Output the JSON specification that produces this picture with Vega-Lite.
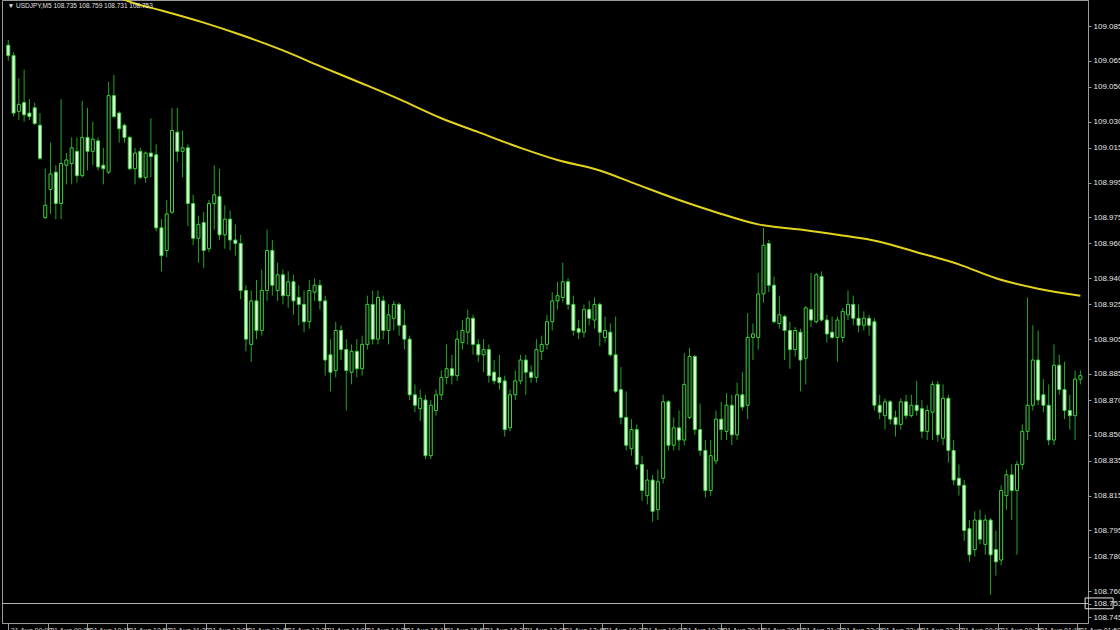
{
"$schema": "https://vega.github.io/schema/vega-lite/v6.json",
"width": 1086, "height": 623,
"autosize": {"type": "none"},
"padding": {"left": 2, "top": 0, "right": 32, "bottom": 7},
"background": "#000000",
"config": {"view": {"stroke": "#9a9a9a", "strokeWidth": 1}, "axis": {"labelOverlap": false, "labelBound": false, "labelFlush": false}},
"datasets": {
"candles": [
{"i":0,"o":109.074,"h":109.077,"l":109.065,"c":109.068},
{"i":1,"o":109.068,"h":109.070,"l":109.033,"c":109.035},
{"i":2,"o":109.036,"h":109.055,"l":109.031,"c":109.040},
{"i":3,"o":109.041,"h":109.060,"l":109.030,"c":109.034},
{"i":4,"o":109.035,"h":109.043,"l":109.031,"c":109.033},
{"i":5,"o":109.038,"h":109.041,"l":109.028,"c":109.029},
{"i":6,"o":109.028,"h":109.035,"l":109.008,"c":109.009},
{"i":7,"o":108.975,"h":109.003,"l":108.974,"c":108.982},
{"i":8,"o":108.991,"h":109.018,"l":108.977,"c":109.000},
{"i":9,"o":109.001,"h":109.005,"l":108.974,"c":108.983},
{"i":10,"o":108.983,"h":109.043,"l":108.974,"c":109.006},
{"i":11,"o":109.005,"h":109.012,"l":108.994,"c":109.008},
{"i":12,"o":109.006,"h":109.021,"l":108.994,"c":109.015},
{"i":13,"o":109.013,"h":109.021,"l":108.995,"c":108.999},
{"i":14,"o":108.999,"h":109.042,"l":108.998,"c":109.021},
{"i":15,"o":109.021,"h":109.038,"l":109.002,"c":109.013},
{"i":16,"o":109.013,"h":109.030,"l":109.005,"c":109.020},
{"i":17,"o":109.019,"h":109.021,"l":109.002,"c":109.004},
{"i":18,"o":109.005,"h":109.015,"l":108.994,"c":109.003},
{"i":19,"o":109.001,"h":109.053,"l":109.000,"c":109.045},
{"i":20,"o":109.045,"h":109.057,"l":109.032,"c":109.033},
{"i":21,"o":109.035,"h":109.036,"l":109.018,"c":109.026},
{"i":22,"o":109.028,"h":109.029,"l":109.018,"c":109.021},
{"i":23,"o":109.021,"h":109.022,"l":109.002,"c":109.003},
{"i":24,"o":109.003,"h":109.015,"l":108.994,"c":109.012},
{"i":25,"o":109.013,"h":109.015,"l":108.997,"c":108.998},
{"i":26,"o":108.998,"h":109.013,"l":108.995,"c":109.012},
{"i":27,"o":109.012,"h":109.032,"l":108.998,"c":109.010},
{"i":28,"o":109.011,"h":109.017,"l":108.967,"c":108.969},
{"i":29,"o":108.969,"h":108.974,"l":108.944,"c":108.953},
{"i":30,"o":108.956,"h":108.985,"l":108.952,"c":108.977},
{"i":31,"o":108.978,"h":109.038,"l":108.977,"c":109.025},
{"i":32,"o":109.024,"h":109.038,"l":109.007,"c":109.013},
{"i":33,"o":109.013,"h":109.025,"l":108.998,"c":109.015},
{"i":34,"o":109.015,"h":109.017,"l":108.970,"c":108.983},
{"i":35,"o":108.983,"h":108.988,"l":108.959,"c":108.963},
{"i":36,"o":108.963,"h":108.976,"l":108.949,"c":108.971},
{"i":37,"o":108.972,"h":108.978,"l":108.946,"c":108.956},
{"i":38,"o":108.957,"h":108.985,"l":108.955,"c":108.983},
{"i":39,"o":108.983,"h":109.005,"l":108.968,"c":108.988},
{"i":40,"o":108.987,"h":109.003,"l":108.962,"c":108.965},
{"i":41,"o":108.965,"h":108.982,"l":108.957,"c":108.974},
{"i":42,"o":108.974,"h":108.979,"l":108.956,"c":108.962},
{"i":43,"o":108.962,"h":108.971,"l":108.953,"c":108.960},
{"i":44,"o":108.960,"h":108.965,"l":108.928,"c":108.933},
{"i":45,"o":108.933,"h":108.936,"l":108.898,"c":108.905},
{"i":46,"o":108.902,"h":108.933,"l":108.892,"c":108.927},
{"i":47,"o":108.927,"h":108.939,"l":108.905,"c":108.910},
{"i":48,"o":108.910,"h":108.945,"l":108.907,"c":108.933},
{"i":49,"o":108.933,"h":108.968,"l":108.927,"c":108.956},
{"i":50,"o":108.956,"h":108.962,"l":108.930,"c":108.936},
{"i":51,"o":108.933,"h":108.949,"l":108.927,"c":108.942},
{"i":52,"o":108.942,"h":108.945,"l":108.925,"c":108.930},
{"i":53,"o":108.930,"h":108.944,"l":108.923,"c":108.938},
{"i":54,"o":108.938,"h":108.942,"l":108.919,"c":108.927},
{"i":55,"o":108.929,"h":108.936,"l":108.913,"c":108.925},
{"i":56,"o":108.925,"h":108.933,"l":108.909,"c":108.915},
{"i":57,"o":108.915,"h":108.939,"l":108.911,"c":108.933},
{"i":58,"o":108.932,"h":108.940,"l":108.927,"c":108.936},
{"i":59,"o":108.936,"h":108.939,"l":108.922,"c":108.927},
{"i":60,"o":108.927,"h":108.930,"l":108.884,"c":108.893},
{"i":61,"o":108.896,"h":108.905,"l":108.875,"c":108.886},
{"i":62,"o":108.887,"h":108.915,"l":108.883,"c":108.910},
{"i":63,"o":108.910,"h":108.913,"l":108.893,"c":108.899},
{"i":64,"o":108.899,"h":108.905,"l":108.864,"c":108.887},
{"i":65,"o":108.886,"h":108.902,"l":108.879,"c":108.898},
{"i":66,"o":108.898,"h":108.905,"l":108.883,"c":108.888},
{"i":67,"o":108.888,"h":108.907,"l":108.884,"c":108.902},
{"i":68,"o":108.902,"h":108.930,"l":108.899,"c":108.925},
{"i":69,"o":108.925,"h":108.933,"l":108.902,"c":108.905},
{"i":70,"o":108.905,"h":108.933,"l":108.902,"c":108.929},
{"i":71,"o":108.927,"h":108.930,"l":108.905,"c":108.910},
{"i":72,"o":108.910,"h":108.925,"l":108.902,"c":108.919},
{"i":73,"o":108.917,"h":108.927,"l":108.910,"c":108.925},
{"i":74,"o":108.925,"h":108.926,"l":108.907,"c":108.913},
{"i":75,"o":108.913,"h":108.922,"l":108.899,"c":108.905},
{"i":76,"o":108.905,"h":108.907,"l":108.870,"c":108.873},
{"i":77,"o":108.873,"h":108.879,"l":108.863,"c":108.867},
{"i":78,"o":108.865,"h":108.876,"l":108.858,"c":108.871},
{"i":79,"o":108.870,"h":108.873,"l":108.836,"c":108.838},
{"i":80,"o":108.838,"h":108.870,"l":108.836,"c":108.867},
{"i":81,"o":108.864,"h":108.876,"l":108.861,"c":108.873},
{"i":82,"o":108.873,"h":108.887,"l":108.870,"c":108.883},
{"i":83,"o":108.883,"h":108.902,"l":108.879,"c":108.888},
{"i":84,"o":108.888,"h":108.896,"l":108.879,"c":108.884},
{"i":85,"o":108.884,"h":108.910,"l":108.881,"c":108.905},
{"i":86,"o":108.903,"h":108.916,"l":108.899,"c":108.910},
{"i":87,"o":108.909,"h":108.922,"l":108.902,"c":108.917},
{"i":88,"o":108.917,"h":108.919,"l":108.896,"c":108.902},
{"i":89,"o":108.902,"h":108.905,"l":108.892,"c":108.896},
{"i":90,"o":108.896,"h":108.905,"l":108.886,"c":108.899},
{"i":91,"o":108.899,"h":108.902,"l":108.880,"c":108.884},
{"i":92,"o":108.886,"h":108.893,"l":108.879,"c":108.881},
{"i":93,"o":108.883,"h":108.896,"l":108.876,"c":108.880},
{"i":94,"o":108.881,"h":108.884,"l":108.849,"c":108.853},
{"i":95,"o":108.854,"h":108.876,"l":108.852,"c":108.873},
{"i":96,"o":108.873,"h":108.887,"l":108.870,"c":108.881},
{"i":97,"o":108.881,"h":108.896,"l":108.879,"c":108.893},
{"i":98,"o":108.893,"h":108.896,"l":108.873,"c":108.886},
{"i":99,"o":108.886,"h":108.890,"l":108.880,"c":108.883},
{"i":100,"o":108.883,"h":108.905,"l":108.880,"c":108.899},
{"i":101,"o":108.898,"h":108.907,"l":108.893,"c":108.902},
{"i":102,"o":108.902,"h":108.919,"l":108.899,"c":108.915},
{"i":103,"o":108.915,"h":108.932,"l":108.910,"c":108.927},
{"i":104,"o":108.927,"h":108.938,"l":108.922,"c":108.930},
{"i":105,"o":108.929,"h":108.949,"l":108.926,"c":108.938},
{"i":106,"o":108.938,"h":108.940,"l":108.922,"c":108.925},
{"i":107,"o":108.925,"h":108.930,"l":108.907,"c":108.910},
{"i":108,"o":108.911,"h":108.916,"l":108.905,"c":108.909},
{"i":109,"o":108.909,"h":108.925,"l":108.906,"c":108.922},
{"i":110,"o":108.922,"h":108.927,"l":108.913,"c":108.917},
{"i":111,"o":108.916,"h":108.929,"l":108.911,"c":108.925},
{"i":112,"o":108.925,"h":108.926,"l":108.901,"c":108.909},
{"i":113,"o":108.906,"h":108.918,"l":108.903,"c":108.910},
{"i":114,"o":108.909,"h":108.914,"l":108.895,"c":108.896},
{"i":115,"o":108.896,"h":108.918,"l":108.874,"c":108.875},
{"i":116,"o":108.876,"h":108.889,"l":108.856,"c":108.860},
{"i":117,"o":108.860,"h":108.875,"l":108.841,"c":108.844},
{"i":118,"o":108.842,"h":108.859,"l":108.838,"c":108.853},
{"i":119,"o":108.853,"h":108.856,"l":108.830,"c":108.833},
{"i":120,"o":108.833,"h":108.838,"l":108.812,"c":108.818},
{"i":121,"o":108.815,"h":108.830,"l":108.810,"c":108.824},
{"i":122,"o":108.824,"h":108.827,"l":108.800,"c":108.806},
{"i":123,"o":108.807,"h":108.830,"l":108.801,"c":108.823},
{"i":124,"o":108.825,"h":108.873,"l":108.822,"c":108.869},
{"i":125,"o":108.869,"h":108.870,"l":108.841,"c":108.844},
{"i":126,"o":108.844,"h":108.860,"l":108.841,"c":108.854},
{"i":127,"o":108.854,"h":108.864,"l":108.841,"c":108.847},
{"i":128,"o":108.847,"h":108.897,"l":108.844,"c":108.879},
{"i":129,"o":108.860,"h":108.900,"l":108.859,"c":108.895},
{"i":130,"o":108.895,"h":108.896,"l":108.850,"c":108.853},
{"i":131,"o":108.853,"h":108.868,"l":108.838,"c":108.841},
{"i":132,"o":108.841,"h":108.847,"l":108.814,"c":108.818},
{"i":133,"o":108.818,"h":108.847,"l":108.815,"c":108.838},
{"i":134,"o":108.835,"h":108.864,"l":108.833,"c":108.859},
{"i":135,"o":108.859,"h":108.869,"l":108.847,"c":108.853},
{"i":136,"o":108.852,"h":108.874,"l":108.847,"c":108.867},
{"i":137,"o":108.867,"h":108.873,"l":108.844,"c":108.850},
{"i":138,"o":108.850,"h":108.880,"l":108.847,"c":108.873},
{"i":139,"o":108.873,"h":108.886,"l":108.864,"c":108.866},
{"i":140,"o":108.867,"h":108.920,"l":108.859,"c":108.906},
{"i":141,"o":108.906,"h":108.914,"l":108.893,"c":108.908},
{"i":142,"o":108.906,"h":108.943,"l":108.899,"c":108.931},
{"i":143,"o":108.931,"h":108.969,"l":108.926,"c":108.959},
{"i":144,"o":108.960,"h":108.962,"l":108.932,"c":108.936},
{"i":145,"o":108.936,"h":108.941,"l":108.914,"c":108.915},
{"i":146,"o":108.914,"h":108.930,"l":108.911,"c":108.919},
{"i":147,"o":108.918,"h":108.919,"l":108.893,"c":108.910},
{"i":148,"o":108.910,"h":108.915,"l":108.888,"c":108.899},
{"i":149,"o":108.899,"h":108.912,"l":108.895,"c":108.910},
{"i":150,"o":108.909,"h":108.911,"l":108.875,"c":108.893},
{"i":151,"o":108.894,"h":108.924,"l":108.879,"c":108.923},
{"i":152,"o":108.922,"h":108.943,"l":108.912,"c":108.916},
{"i":153,"o":108.915,"h":108.943,"l":108.914,"c":108.942},
{"i":154,"o":108.941,"h":108.944,"l":108.915,"c":108.916},
{"i":155,"o":108.916,"h":108.919,"l":108.903,"c":108.908},
{"i":156,"o":108.909,"h":108.918,"l":108.905,"c":108.906},
{"i":157,"o":108.906,"h":108.918,"l":108.892,"c":108.916},
{"i":158,"o":108.906,"h":108.923,"l":108.903,"c":108.921},
{"i":159,"o":108.919,"h":108.933,"l":108.916,"c":108.925},
{"i":160,"o":108.925,"h":108.930,"l":108.913,"c":108.917},
{"i":161,"o":108.917,"h":108.925,"l":108.909,"c":108.913},
{"i":162,"o":108.913,"h":108.921,"l":108.910,"c":108.917},
{"i":163,"o":108.917,"h":108.919,"l":108.907,"c":108.913},
{"i":164,"o":108.915,"h":108.917,"l":108.864,"c":108.867},
{"i":165,"o":108.867,"h":108.873,"l":108.859,"c":108.863},
{"i":166,"o":108.861,"h":108.871,"l":108.853,"c":108.869},
{"i":167,"o":108.869,"h":108.870,"l":108.856,"c":108.859},
{"i":168,"o":108.860,"h":108.864,"l":108.849,"c":108.856},
{"i":169,"o":108.856,"h":108.871,"l":108.853,"c":108.869},
{"i":170,"o":108.869,"h":108.873,"l":108.859,"c":108.861},
{"i":171,"o":108.861,"h":108.873,"l":108.860,"c":108.867},
{"i":172,"o":108.867,"h":108.881,"l":108.861,"c":108.864},
{"i":173,"o":108.865,"h":108.870,"l":108.848,"c":108.852},
{"i":174,"o":108.852,"h":108.867,"l":108.847,"c":108.864},
{"i":175,"o":108.863,"h":108.881,"l":108.847,"c":108.879},
{"i":176,"o":108.879,"h":108.881,"l":108.846,"c":108.850},
{"i":177,"o":108.848,"h":108.879,"l":108.844,"c":108.871},
{"i":178,"o":108.871,"h":108.873,"l":108.834,"c":108.841},
{"i":179,"o":108.841,"h":108.847,"l":108.821,"c":108.824},
{"i":180,"o":108.825,"h":108.833,"l":108.815,"c":108.821},
{"i":181,"o":108.821,"h":108.824,"l":108.789,"c":108.795},
{"i":182,"o":108.796,"h":108.801,"l":108.777,"c":108.781},
{"i":183,"o":108.784,"h":108.806,"l":108.780,"c":108.801},
{"i":184,"o":108.801,"h":108.807,"l":108.787,"c":108.790},
{"i":185,"o":108.787,"h":108.804,"l":108.781,"c":108.801},
{"i":186,"o":108.801,"h":108.802,"l":108.758,"c":108.781},
{"i":187,"o":108.784,"h":108.795,"l":108.769,"c":108.777},
{"i":188,"o":108.778,"h":108.821,"l":108.775,"c":108.818},
{"i":189,"o":108.815,"h":108.830,"l":108.807,"c":108.827},
{"i":190,"o":108.827,"h":108.833,"l":108.801,"c":108.818},
{"i":191,"o":108.818,"h":108.835,"l":108.781,"c":108.833},
{"i":192,"o":108.833,"h":108.856,"l":108.830,"c":108.852},
{"i":193,"o":108.852,"h":108.929,"l":108.847,"c":108.867},
{"i":194,"o":108.867,"h":108.913,"l":108.864,"c":108.893},
{"i":195,"o":108.893,"h":108.910,"l":108.867,"c":108.870},
{"i":196,"o":108.873,"h":108.882,"l":108.863,"c":108.867},
{"i":197,"o":108.867,"h":108.879,"l":108.844,"c":108.847},
{"i":198,"o":108.847,"h":108.902,"l":108.844,"c":108.890},
{"i":199,"o":108.890,"h":108.896,"l":108.873,"c":108.876},
{"i":200,"o":108.876,"h":108.892,"l":108.859,"c":108.864},
{"i":201,"o":108.864,"h":108.873,"l":108.853,"c":108.861},
{"i":202,"o":108.861,"h":108.887,"l":108.847,"c":108.882},
{"i":203,"o":108.882,"h":108.887,"l":108.879,"c":108.884}
],
"ma": [
{"i":18,"v":109.105},{"i":24,"v":109.098},{"i":29,"v":109.094},{"i":37,"v":109.087},{"i":44,"v":109.080},
{"i":52,"v":109.071},{"i":59,"v":109.062},{"i":67,"v":109.052},{"i":74,"v":109.043},{"i":82,"v":109.032},
{"i":89,"v":109.024},{"i":97,"v":109.015},{"i":104,"v":109.008},{"i":112,"v":109.002},{"i":119,"v":108.994},
{"i":127,"v":108.985},{"i":134,"v":108.978},{"i":142,"v":108.971},{"i":150,"v":108.968},{"i":157,"v":108.965},
{"i":165,"v":108.961},{"i":172,"v":108.955},{"i":180,"v":108.948},{"i":187,"v":108.940},{"i":195,"v":108.934},
{"i":203,"v":108.930}
],
"price": [{"i": -2, "i2": 206, "p": 108.753}],
"pricebox": [{"i": 203.9, "i2": 209.2, "p": 108.7562, "p2": 108.7500}],
"head": [{"i": -0.1, "p": 109.099, "t": "▼ USDJPY,M5  108.735 108.759 108.731 108.753"}]
},
"layer": [
{"data": {"name": "candles"},
 "mark": {"type": "rule", "color": "#23a523", "strokeWidth": 1},
 "encoding": {
  "x": {"field": "i", "type": "quantitative",
    "scale": {"domain": [-0.244, 203.5], "nice": false, "zero": false},
    "axis": {"orient": "bottom", "title": null, "grid": false, "tickCount": 60,
      "values": [0,7.45,14.95,22.45,29.95,37.45,44.95,52.45,59.95,67.45,74.95,82.45,89.95,97.45,104.95,112.45,119.95,127.45,134.95,142.45,149.95,157.45,164.95,172.45,179.95,187.45,194.95,202.45],
      "labelExpr": "'21 Aug ' + timeFormat(datetime(2019, 7, 21, 9, round(datum.value) * 5), '%H:%M')",
      "labelAlign": "left", "labelBaseline": "top", "labelPadding": -4, "labelOffset": 2,
      "labelFontSize": 7, "labelFont": "Liberation Sans", "labelColor": "#d8d8d8",
      "tickSize": 7, "tickColor": "#9a9a9a", "domainColor": "#9a9a9a", "labelOverlap": false}},
  "y": {"field": "l", "type": "quantitative",
    "scale": {"domain": [108.7418, 109.1], "nice": false, "zero": false},
    "axis": {"orient": "right", "title": null, "grid": false, "format": ".3f", "tickCount": 60,
      "values": [109.085,109.065,109.05,109.03,109.015,108.995,108.975,108.96,108.94,108.925,108.905,108.885,108.87,108.85,108.835,108.815,108.795,108.78,108.76,108.753,108.745],
      "labelFontSize": 8, "labelFont": "Liberation Sans", "labelColor": "#e6e6e6", "labelPadding": 2,
      "tickSize": 3, "tickColor": "#9a9a9a", "domainColor": "#9a9a9a", "labelOverlap": false}},
  "y2": {"field": "h"}}},
{"data": {"name": "candles"},
 "mark": {"type": "bar", "size": 3, "stroke": "#3fd23f", "strokeWidth": 1},
 "encoding": {
  "x": {"field": "i", "type": "quantitative"},
  "y": {"field": "o", "type": "quantitative"},
  "y2": {"field": "c"},
  "fill": {"condition": {"test": "datum.c < datum.o", "value": "#e4ffe4"}, "value": "#000000"}}},
{"data": {"name": "ma"},
 "mark": {"type": "line", "color": "#e3d31c", "strokeWidth": 2, "clip": true, "interpolate": "monotone"},
 "encoding": {"x": {"field": "i", "type": "quantitative"}, "y": {"field": "v", "type": "quantitative"}}},
{"data": {"name": "price"},
 "mark": {"type": "rule", "color": "#b4b4b4", "strokeWidth": 1, "clip": true},
 "encoding": {"x": {"field": "i", "type": "quantitative"}, "x2": {"field": "i2"}, "y": {"field": "p", "type": "quantitative"}}},
{"data": {"name": "pricebox"},
 "mark": {"type": "rect", "stroke": "#e8e8e8", "strokeWidth": 1, "fillOpacity": 0, "clip": false},
 "encoding": {"x": {"field": "i", "type": "quantitative"}, "x2": {"field": "i2"}, "y": {"field": "p", "type": "quantitative"}, "y2": {"field": "p2"}}},
{"data": {"name": "head"},
 "mark": {"type": "text", "align": "left", "baseline": "top", "font": "Liberation Sans", "fontSize": 6.5, "fill": "#e0e0e0", "dy": 1},
 "encoding": {"x": {"field": "i", "type": "quantitative"}, "y": {"field": "p", "type": "quantitative"}, "text": {"field": "t"}}}
]
}
